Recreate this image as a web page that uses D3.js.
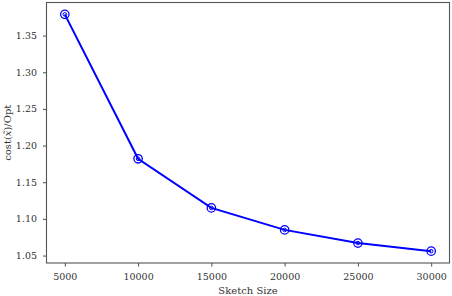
<!DOCTYPE html>
<html>
<head>
    <meta charset="utf-8">
    <script src="https://cdn.jsdelivr.net/npm/d3@7"></script>
    <style>
        body { margin: 0; background: #fff; }
    </style>
</head>
<body>
<svg id="chart"></svg>
<script>
    // data
    var sketchSizes = [5000, 10000, 15000, 20000, 25000, 30000];
    var costRatio = [1.379, 1.182, 1.115, 1.085, 1.067, 1.056];
    var xTicks = [5000, 10000, 15000, 20000, 25000, 30000];
    var yTicks = [1.05, 1.10, 1.15, 1.20, 1.25, 1.30, 1.35];

    var w = 452, h = 296;
    var margin = {left: 46.5, right: 2.5, top: 2.5, bottom: 33};
    var serif = "'DejaVu Serif', serif";

    var svg = d3.select("#chart").attr("width", w).attr("height", h);

    // matplotlib-like 5% padding
    var xPad = (d3.max(sketchSizes) - d3.min(sketchSizes)) * 0.05;
    var yPad = (d3.max(costRatio) - d3.min(costRatio)) * 0.05;

    var x = d3.scaleLinear()
        .domain([d3.min(sketchSizes) - xPad, d3.max(sketchSizes) + xPad])
        .range([margin.left, w - margin.right]);
    var y = d3.scaleLinear()
        .domain([d3.min(costRatio) - yPad, d3.max(costRatio) + yPad])
        .range([h - margin.bottom, margin.top]);

    // axes
    var xAxis = svg.append("g")
        .attr("transform", "translate(0," + (h - margin.bottom) + ")")
        .call(d3.axisBottom(x).tickValues(xTicks).tickSize(3.5).tickPadding(7).tickFormat(d3.format("d")));
    var yAxis = svg.append("g")
        .attr("transform", "translate(" + margin.left + ",0)")
        .call(d3.axisLeft(y).tickValues(yTicks).tickSize(3.5).tickPadding(6).tickFormat(d3.format(".2f")));

    [xAxis, yAxis].forEach(function(g) {
        g.attr("font-family", serif).attr("font-size", 9.5);
        g.select(".domain").remove();
        g.selectAll("line").attr("stroke", "#222").attr("stroke-width", 0.8);
        g.selectAll("text").attr("fill", "#333");
    });

    // frame
    svg.append("rect")
        .attr("x", margin.left)
        .attr("y", margin.top)
        .attr("width", w - margin.left - margin.right)
        .attr("height", h - margin.top - margin.bottom)
        .attr("fill", "none")
        .attr("stroke", "#555")
        .attr("stroke-width", 1.1);

    // line
    var pts = sketchSizes.map(function(d, i) { return [d, costRatio[i]]; });
    var line = d3.line()
        .x(function(d) { return x(d[0]); })
        .y(function(d) { return y(d[1]); });

    svg.append("path")
        .datum(pts)
        .attr("d", line)
        .attr("fill", "none")
        .attr("stroke", "#0000ff")
        .attr("stroke-width", 2);

    // markers: ring with small ring inside
    svg.selectAll("circle.outer")
        .data(pts)
        .enter()
        .append("circle")
        .attr("class", "outer")
        .attr("cx", function(d) { return x(d[0]); })
        .attr("cy", function(d) { return y(d[1]); })
        .attr("r", 4.2)
        .attr("fill", "none")
        .attr("stroke", "#0000ff")
        .attr("stroke-width", 1.3);
    svg.selectAll("circle.inner")
        .data(pts)
        .enter()
        .append("circle")
        .attr("class", "inner")
        .attr("cx", function(d) { return x(d[0]); })
        .attr("cy", function(d) { return y(d[1]); })
        .attr("r", 1.8)
        .attr("fill", "none")
        .attr("stroke", "#0000ff")
        .attr("stroke-width", 1);

    // labels
    svg.append("text")
        .attr("x", (margin.left + w - margin.right) / 2)
        .attr("y", 294)
        .attr("text-anchor", "middle")
        .attr("font-family", serif)
        .attr("font-size", 10)
        .attr("fill", "#333")
        .text("Sketch Size");

    var yl = svg.append("text")
        .attr("transform", "translate(11," + ((margin.top + h - margin.bottom) / 2) + ") rotate(-90)")
        .attr("text-anchor", "middle")
        .attr("font-family", serif)
        .attr("font-size", 10)
        .attr("fill", "#333");
    yl.append("tspan").text("cost(");
    yl.append("tspan").attr("font-style", "italic").text("x\u0303");
    yl.append("tspan").text(")/Opt");
</script>
</body>
</html>
